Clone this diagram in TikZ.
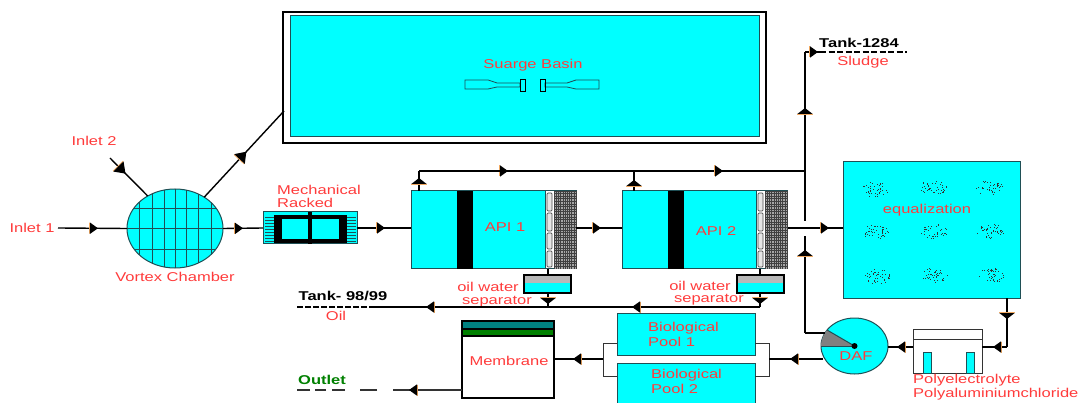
\documentclass[tikz,border=0pt]{standalone}
\usepackage{fontspec}
\setmainfont[FakeStretch=1.29]{Liberation Sans}
\usetikzlibrary{shapes.geometric,decorations.markings,arrows.meta}
\definecolor{wat}{HTML}{00FFFF}
\definecolor{rim}{HTML}{1F4F55}
\definecolor{txt}{HTML}{FF3B3B}
\definecolor{tea}{HTML}{008080}
\definecolor{grn}{HTML}{008000}
\definecolor{brz}{HTML}{F0A860}
\tikzset{
  tnk/.style={draw=rim, fill=wat, line width=1pt, inner sep=0pt, outer sep=0pt, anchor=north west},
  ell/.style={ellipse, draw=rim, fill=wat, line width=1pt, inner sep=0pt, outer sep=0pt},
  sep/.style={draw=black, fill=wat, line width=2pt, inner sep=0pt, outer sep=0pt, anchor=north west, minimum width=47pt, minimum height=18pt},
  lbl/.style={text=txt, inner sep=0pt, font=\fontsize{12.8}{14}\selectfont},
  hdr/.style={inner sep=0pt, font=\fontsize{12.8}{14}\selectfont\bfseries},
  pip/.style={draw=black, line width=1.4pt},
  thn/.style={draw=black!80, line width=1pt},
  flw/.style={postaction={decorate, decoration={markings, mark=at position #1 with
    {\arrow{Bar[width=11pt, line width=.9pt, color=brz, sep=0pt]Triangle[length=8pt, width=11pt, color=black]}}}}},
  flv/.style={postaction={decorate, decoration={markings, mark=at position #1 with
    {\arrow{Bar[width=16pt, line width=.9pt, color=brz, sep=0pt]Triangle[length=6pt, width=15pt, color=black]}}}}},
  fld/.style={postaction={decorate, decoration={markings, mark=at position #1 with
    {\arrow{Bar[width=14pt, line width=.9pt, color=brz, sep=0pt]Triangle[length=10pt, width=14pt, color=black]}}}}},
  bub/.pic={
    \foreach \i in {1,...,42} {
      \pgfmathsetmacro\ra{rnd*360}
      \pgfmathsetmacro\rb{sqrt(rnd)}
      \fill[black!80] ({13.5*\rb*cos(\ra)},{7.5*\rb*sin(\ra)}) rectangle ++(.8,.8);}}}

\begin{document}
\begin{tikzpicture}[x=1pt, y=-1pt]
\useasboundingbox (0,0) rectangle (1081,403);
\pgfmathsetseed{42}
% basin
\node[draw=black, fill=white, line width=1.8pt, inner sep=0pt, outer sep=0pt, anchor=north west, minimum width=483pt, minimum height=131pt] (bsnout) at (283,12) {};
\node[tnk, minimum width=469pt, minimum height=121pt] (bsn) at (290,16) {};
\node[lbl] (bsnt) at (533,65) {Suarge Basin};
\draw[rim, line width=.8pt] (465,80) -- (488,80) -- (497,83) -- (520,83) -- (520,87) -- (497,87) -- (488,89) -- (465,89) -- cycle;
\draw[rim, line width=.8pt] (599,80) -- (576,80) -- (567,83) -- (545,83) -- (545,87) -- (567,87) -- (576,89) -- (599,89) -- cycle;
\draw[black, line width=.8pt] (520,79) rectangle (525,91);
\draw[black, line width=.8pt] (540,79) rectangle (545,91);
% vortex chamber
\node[ell, minimum width=96pt, minimum height=79pt] (vtx) at (175,228.5) {};
\begin{scope}
  \clip (175,228.5) ellipse [x radius=48, y radius=39.5];
  \foreach \x in {139,152,164,175,186,198,211}
    \draw[rim, line width=.9pt] (\x,185) -- (\x,272);
  \foreach \y in {208,228,249}
    \draw[rim, line width=.9pt] (125,\y) -- (225,\y);
\end{scope}
\node[lbl] (inl1t) at (32,228) {Inlet 1};
\node[lbl] (inl2t) at (94,141) {Inlet 2};
\node[lbl] (vtxt) at (175,277) {Vortex Chamber};
\coordinate (inl1) at (58,228);
\coordinate (inl2) at (110,158);
\coordinate (bin) at (284,111);
\draw[pip, flw=40pt] (inl1) -- (vtx.west);
\draw[pip, fld=22pt] (inl2) -- (vtx.130);
\draw[pip, fld=62pt] (vtx.47) -- (bin);
% racked
\node[tnk, minimum width=94pt, minimum height=32pt] (rck) at (263,212) {};
\foreach \y in {217,220,...,242} {
  \draw[rim, line width=.5pt] (265,\y) -- (274,\y);
  \draw[rim, line width=.5pt] (347,\y) -- (356,\y);}
\fill[black] (274,215) rectangle (347,243);
\fill[wat] (282,219) rectangle (308,239);
\fill[wat] (312,219) rectangle (339,239);
\fill[black] (308,212) rectangle (312,244);
\node[lbl] (rckt1) at (319,190) {Mechanical};
\node[lbl, anchor=west] (rckt2) at (277,203) {Racked};
\draw[pip, flw=20pt] (vtx.east) -- (rck.west);
% api tanks
\foreach \n/\x/\ty in {1/411/227,2/622/231} {
  \node[tnk, minimum width=165pt, minimum height=78pt] (api\n) at (\x,191) {};
  \fill[black] (\x+46,191) rectangle (\x+62,269);
  \fill[white] (\x+134,191.5) rectangle (\x+143,268.5);
  \draw[rim, line width=.8pt] (\x+134,191) -- (\x+134,269);
  \foreach \a/\b in {193/211,213/231,233/249,251/267}
    \draw[black!70, fill=black!10, line width=.7pt, rounded corners=1pt] (\x+136,\a) rectangle (\x+141,\b);
  \fill[black!35] (\x+143,191) rectangle (\x+165,269);
  \foreach \u in {0,2.2,...,22}
    \draw[black!75, line width=.6pt] (\x+143+\u,191) -- (\x+143+\u,269);
  \foreach \v in {0,2.6,...,78}
    \draw[black!75, line width=.6pt] (\x+143,191+\v) -- (\x+165,191+\v);
  \node[lbl] (api\n t) at (\x+94,\ty) {API \n};
}
\draw[pip, flw=28pt] (rck.east) -- (rck.east -| api1.west);
\coordinate (a1o) at (576,228);
\coordinate (a2i) at (622,228);
\coordinate (a2o) at (788,228);
\draw[pip, flw=25pt] (a1o) -- (a2i);
% overflow and sludge
\coordinate (a1t) at (419,191);
\coordinate (a1b) at (419,171);
\coordinate (a2t) at (634,191);
\coordinate (a2b) at (634,171);
\coordinate (slj) at (805,171);
\coordinate (slb) at (805,221);
\coordinate (sle) at (805,52);
\coordinate (sls) at (820,52);
\coordinate (slz) at (907,52);
\draw[pip, flv=13pt] (a1t) -- (a1b);
\draw[pip, flw=89pt] (a1b) -- (slj);
\draw[pip, flw=304pt] (a1b) -- (slj);
\draw[pip, flv=11pt] (a2t) -- (a2b);
\draw[pip, line width=1.8pt, flv=113pt] (slb) -- (sle);
\draw[pip, line width=1.8pt, flw=13pt] (sle) -- (sls);
\draw[black, line width=1.2pt, dash pattern=on 6pt off 2.5pt] (sls) -- (slz);
\node[hdr] (tk1) at (859,43) {Tank-1284};
\node[lbl] (slg) at (863,62) {Sludge};
% equalization
\node[tnk, minimum width=177pt, minimum height=136pt] (eql) at (843,162) {};
\node[lbl] (eqlt) at (927,210) {equalization};
\foreach \x/\y in {875/189,933/187,989/187,876/232,934/231,990/231,877/276,935/275,991/275}
  \pic at (\x,\y) {bub};
\draw[pip, flw=41pt] (a2o) -- (a2o -| eql.west);
% separators
\foreach \n/\x/\l in {1/524/548,2/737/760} {
  \node[sep] (osp\n) at (\x,275) {};
  \fill[black!28] (\x+1,276) rectangle (\x+46,283);
  \draw[black, line width=2pt] (\x,275) rectangle (\x+47,293);
  \draw[pip] (\l,269) -- (\l,275);
  \coordinate (osb\n) at (\l,293);
  \coordinate (osj\n) at (\l,307);
  \draw[pip, flv=11pt] (osb\n) -- (osj\n);
}
\node[lbl] (ost1) at (488,287) {oil water};
\node[lbl] (ost2) at (497,301.5) {separator};
\node[lbl] (ost3) at (700,286) {oil water};
\node[lbl] (ost4) at (709,300) {separator};
\coordinate (oil) at (375,307);
\coordinate (oilz) at (297,307);
\draw[pip, flw=128pt, flw=334pt] (osj2) -- (oil);
\draw[black, line width=1.2pt, dash pattern=on 6pt off 2pt] (oil) -- (oilz);
\node[hdr] (tk2) at (343,296) {Tank- 98/99};
\node[lbl] (oilt) at (336,316) {Oil};
% pools
\node[tnk, minimum width=138pt, minimum height=42pt] (bio1) at (617,313) {};
\node[tnk, minimum width=138pt, minimum height=50pt] (bio2) at (617,363) {};
\node[lbl, anchor=west] (bio1a) at (648,328) {Biological};
\node[lbl, anchor=west] (bio1b) at (648,342) {Pool 1};
\node[lbl, anchor=west] (bio2a) at (651,375) {Biological};
\node[lbl, anchor=west] (bio2b) at (651,389) {Pool 2};
\coordinate (jl) at (603,359);
\coordinate (jr) at (769,359);
\draw[thn] (617,343) -- (603,343) -- (603,376) -- (617,376);
\draw[thn] (755,343) -- (769,343) -- (769,376) -- (755,376);
% membrane
\node[draw=black, fill=white, line width=1.5pt, inner sep=0pt, outer sep=0pt, anchor=north west, minimum width=92pt, minimum height=77pt] (mem) at (462,321) {};
\draw[black, line width=1.2pt, fill=tea] (462,321) rectangle (554,329);
\draw[black, line width=1.2pt, fill=grn] (462,329) rectangle (554,336);
\node[lbl] (memt) at (509,361) {Membrane};
\coordinate (meme) at (554,359);
\coordinate (memw) at (462,390);
\coordinate (out) at (393,390);
\draw[pip, flw=30pt] (jl) -- (meme);
\draw[pip, flw=53pt, black!80] (memw) -- (out);
\draw[black!80, line width=1.4pt] (377,390) -- (360,390);
\draw[black!80, line width=1.4pt] (345,390) -- (332,390);
\draw[black!80, line width=1.4pt] (326,390) -- (315,390);
\draw[black!80, line width=1.4pt] (310,390) -- (297,390);
\node[hdr, text=grn] (outt) at (322,380) {Outlet};
% daf
\node[ell, minimum width=67pt, minimum height=56pt] (daf) at (854.5,346) {};
\begin{scope}
  \clip (854.5,346) ellipse [x radius=33.5, y radius=28];
  \fill[black!50] (854.5,346) -- (815,346) -- (815,323) -- cycle;
\end{scope}
\draw[rim, line width=1pt] (854.5,346) -- (821,346);
\draw[rim, line width=1pt] (854.5,346) -- (827,330);
\fill[black] (854.5,346) circle (3);
\node[lbl] (daft) at (856,356) {DAF};
\coordinate (dafo) at (825,333);
\coordinate (dafv) at (805,333);
\coordinate (dafe) at (805,236);
\coordinate (dafw) at (823,359);
\draw[pip, line width=1.8pt, flv=83pt] (dafv) -- (dafe);
\draw[pip] (dafo) -- (dafv);
\draw[pip, flw=33pt] (dafw) -- (jr);
% polyelectrolyte
\node[draw=black!80, fill=white, line width=1pt, inner sep=0pt, outer sep=0pt, anchor=north west, minimum width=69pt, minimum height=44pt] (pol) at (913,329) {};
\draw[black!80, line width=1pt] (913,339) -- (982,339);
\node[tnk, minimum width=8pt, minimum height=21pt] (pol1) at (923,352) {};
\node[tnk, minimum width=8pt, minimum height=21pt] (pol2) at (966,352) {};
\node[lbl, anchor=west] (polt1) at (913,380) {Polyelectrolyte};
\node[lbl, anchor=west] (polt2) at (913,394) {Polyaluminiumchloride};
\coordinate (eqo) at (1007,298);
\coordinate (eqc) at (1007,347);
\coordinate (pole) at (982,347);
\coordinate (polw) at (913,347);
\coordinate (dafr) at (888,347);
\draw[pip, flw=16pt] (polw) -- (dafr);
\draw[pip, line width=1.8pt, flv=21pt] (eqo) -- (eqc);
\draw[pip, flw=14pt] (eqc) -- (pole);
\end{tikzpicture}
\end{document}
